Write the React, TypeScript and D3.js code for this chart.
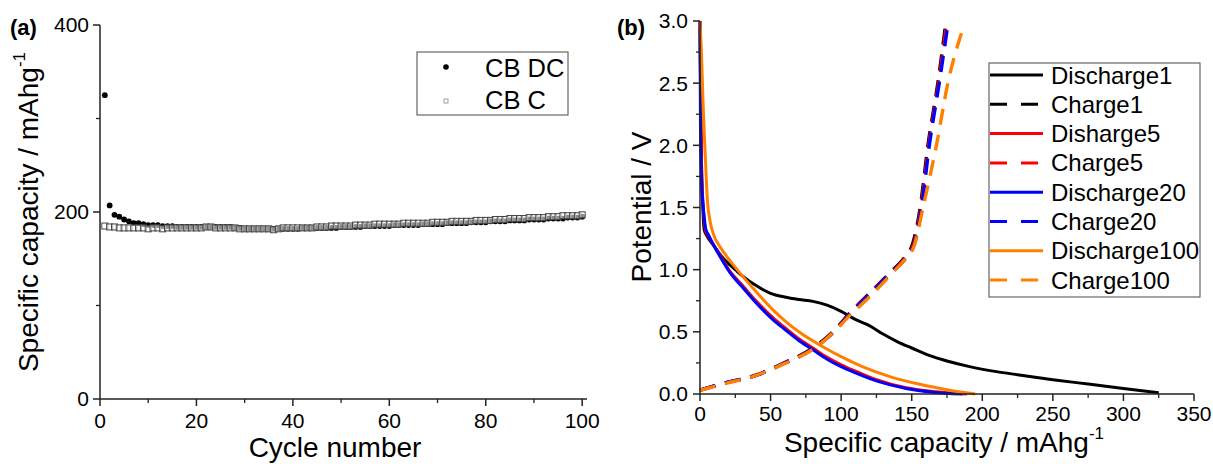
import React from "react";
import * as d3 from "d3";

// ---------- Panel (a) data ----------
const cbDC = [
  325, 207, 197, 195, 192, 190, 188, 188, 187, 186,
  186, 186, 185, 185, 185, 184, 184, 184, 184, 184,
  184, 184, 184, 184, 184, 184, 184, 183, 183, 182,
  182, 182, 182, 182, 182, 182, 182, 182, 182, 182,
  182, 183, 183, 183, 183, 183, 183, 183, 183, 184,
  184, 184, 184, 184, 185, 185, 185, 185, 185, 185,
  186, 186, 186, 186, 186, 186, 187, 187, 187, 187,
  187, 188, 188, 188, 188, 188, 189, 189, 189, 189,
  190, 190, 190, 190, 191, 191, 191, 191, 192, 192,
  192, 192, 193, 193, 193, 193, 194, 194, 194, 195,
];
const cbC = [
  185, 184, 184, 183, 183, 183, 183, 183, 183, 182,
  183, 183, 182, 183, 183, 183, 183, 183, 183, 183,
  183, 184, 184, 183, 183, 183, 183, 183, 182, 182,
  182, 182, 182, 182, 182, 181, 182, 183, 183, 183,
  183, 183, 183, 183, 184, 184, 184, 185, 185, 185,
  185, 185, 186, 186, 186, 186, 187, 187, 187, 187,
  187, 187, 188, 188, 188, 188, 188, 188, 189, 189,
  189, 189, 190, 190, 190, 190, 190, 191, 191, 191,
  191, 192, 192, 192, 193, 193, 193, 193, 194, 194,
  194, 194, 195, 195, 195, 196, 196, 196, 196, 197,
];
const aXTicks = [0, 20, 40, 60, 80, 100];
const aXMinor = [10, 30, 50, 70, 90];
const aYTicks = [0, 200, 400];
const aYMinor = [100, 300];

// ---------- Panel (b) data ----------
const dis1Cap = [0, 0.5, 1, 2, 3, 5, 10, 15, 20, 25, 30, 40, 50, 60, 70, 80, 90, 100, 110, 120, 130, 140, 150, 165, 175, 191, 210, 225, 250, 275, 300, 325];
const dis1V = [3.0, 2.4, 1.9, 1.5, 1.32, 1.27, 1.19, 1.11, 1.05, 1.0, 0.95, 0.87, 0.81, 0.78, 0.76, 0.745, 0.715, 0.665, 0.6, 0.55, 0.48, 0.42, 0.37, 0.3, 0.265, 0.22, 0.18, 0.155, 0.115, 0.08, 0.045, 0.01];
const ch1Cap = [0, 16.5, 40, 59, 82.6, 95, 106, 121, 136.8, 145, 151, 156, 161.5, 168.5, 174];
const ch1V = [0.03, 0.086, 0.153, 0.247, 0.39, 0.51, 0.65, 0.82, 1.0, 1.1, 1.22, 1.5, 2.0, 2.5, 2.97];
const dis5Cap = [0, 0.5, 1, 2, 3, 4, 6, 10, 15, 21, 30, 40, 52, 60, 70, 80, 90, 100, 111, 125, 146, 165, 189];
const dis5V = [3.0, 2.3, 1.9, 1.55, 1.4, 1.31, 1.27, 1.19, 1.1, 0.99, 0.875, 0.745, 0.61, 0.535, 0.445, 0.37, 0.295, 0.235, 0.18, 0.115, 0.05, 0.02, 0.0];
const ch5Cap = [0, 16.5, 40, 59, 82.6, 95, 106, 121, 136.8, 145, 151.5, 156.5, 162, 169, 175];
const ch5V = [0.03, 0.085, 0.152, 0.245, 0.385, 0.505, 0.645, 0.815, 0.995, 1.09, 1.21, 1.5, 2.0, 2.5, 3.0];
const dis20Cap = [0, 0.3, 0.6, 1, 2, 3, 4, 6, 10, 15, 21, 30, 40, 52, 60, 70, 80, 90, 100, 111, 125, 146, 165, 186];
const dis20V = [3.0, 2.2, 1.95, 1.75, 1.55, 1.42, 1.33, 1.28, 1.19, 1.09, 0.98, 0.86, 0.73, 0.595, 0.52, 0.43, 0.355, 0.28, 0.22, 0.166, 0.105, 0.045, 0.015, 0.0];
const ch20Cap = [0, 16.5, 40, 59, 82.6, 95, 106, 121, 136.8, 145, 152, 157, 162.5, 169.5, 176];
const ch20V = [0.03, 0.085, 0.15, 0.243, 0.383, 0.5, 0.64, 0.81, 0.99, 1.08, 1.21, 1.5, 2.0, 2.5, 3.0];
const dis100Cap = [0, 1, 2, 3, 4, 5, 7, 9.4, 15, 20, 30, 40, 51.9, 60, 70, 87, 100, 115, 134.5, 155, 175, 195];
const dis100V = [3.0, 2.75, 2.4, 2.1, 1.85, 1.6, 1.4, 1.29, 1.17, 1.09, 0.95, 0.82, 0.675, 0.59, 0.5, 0.38, 0.3, 0.22, 0.14, 0.08, 0.035, 0.0];
const ch100Cap = [0, 16.5, 40, 59, 82.6, 95, 106, 120, 136.8, 145, 152, 158, 167.5, 175.6, 186];
const ch100V = [0.03, 0.08, 0.15, 0.24, 0.38, 0.5, 0.63, 0.78, 0.98, 1.08, 1.2, 1.5, 2.0, 2.5, 2.93];

const bSeriesNames = ["Discharge1", "Charge1", "Disharge5", "Charge5", "Discharge20", "Charge20", "Discharge100", "Charge100"];
const bSeriesColors = ["#000000", "#000000", "#ff0000", "#ff0000", "#0000ff", "#0000ff", "#ff8000", "#ff8000"];
const bSeriesDashed = [false, true, false, true, false, true, false, true];
const bSeriesCaps = [dis1Cap, ch1Cap, dis5Cap, ch5Cap, dis20Cap, ch20Cap, dis100Cap, ch100Cap];
const bSeriesVs = [dis1V, ch1V, dis5V, ch5V, dis20V, ch20V, dis100V, ch100V];

const bXTicks = [0, 50, 100, 150, 200, 250, 300, 350];
const bXMinor = [25, 75, 125, 175, 225, 275, 325];
const bYTicks = [0, 0.5, 1.0, 1.5, 2.0, 2.5, 3.0];
const bYMinor = [0.25, 0.75, 1.25, 1.75, 2.25, 2.75];

const FONT = "'Liberation Sans', Arial, Helvetica, sans-serif";
const AX = "#222";

export default function App() {
  // Panel (a) scales
  const ax = d3.scaleLinear().domain([0, 101]).range([100, 587]);
  const ay = d3.scaleLinear().domain([0, 400]).range([399, 25]);
  // Panel (b) scales
  const bx = d3.scaleLinear().domain([0, 350]).range([700, 1194]);
  const by = d3.scaleLinear().domain([0, 3]).range([394, 21]);

  const line = d3
    .line<[number, number]>()
    .x((d) => bx(d[0]))
    .y((d) => by(d[1]))
    .curve(d3.curveMonotoneX);

  const tickFont = 21;

  return (
    <svg width={1213} height={464} style={{ display: "block", position: "absolute", left: 0, top: 0 }} fontFamily={FONT}>
      <rect x={0} y={0} width={1213} height={464} fill="#fff" />

      {/* ===== Panel (a) ===== */}
      <text x={10} y={35} fontSize={22} fontWeight="bold" fill="#000">(a)</text>

      {/* data: discharge circles */}
      {cbDC.map((v, i) => (
        <circle key={"dc" + i} cx={ax(i + 1)} cy={ay(v)} r={2.9} fill="#000" />
      ))}
      {/* data: charge squares */}
      {cbC.map((v, i) => (
        <rect key={"c" + i} x={ax(i + 1) - 3} y={ay(v) - 3} width={6} height={6} fill="#fff" fillOpacity={0.55} stroke="#444" strokeWidth={1} />
      ))}

      {/* axes */}
      <line x1={ax(0)} x2={ax(101)} y1={ay(0)} y2={ay(0)} stroke={AX} strokeWidth={1.5} />
      <line x1={ax(0)} x2={ax(0)} y1={ay(0)} y2={ay(400)} stroke={AX} strokeWidth={1.5} />
      {aXTicks.map((t) => (
        <g key={"axt" + t}>
          <line x1={ax(t)} x2={ax(t)} y1={ay(0)} y2={ay(0) + 7} stroke={AX} strokeWidth={1.5} />
          <text x={ax(t)} y={ay(0) + 14} dy="0.71em" textAnchor="middle" fontSize={tickFont}>{t}</text>
        </g>
      ))}
      {aXMinor.map((t) => (
        <line key={"axm" + t} x1={ax(t)} x2={ax(t)} y1={ay(0)} y2={ay(0) + 4} stroke={AX} strokeWidth={1.3} />
      ))}
      {aYTicks.map((t) => (
        <g key={"ayt" + t}>
          <line x1={ax(0) - 7} x2={ax(0)} y1={ay(t)} y2={ay(t)} stroke={AX} strokeWidth={1.5} />
          <text x={ax(0) - 11} y={ay(t)} dy="0.35em" textAnchor="end" fontSize={tickFont}>{t}</text>
        </g>
      ))}
      {aYMinor.map((t) => (
        <line key={"aym" + t} x1={ax(0) - 4} x2={ax(0)} y1={ay(t)} y2={ay(t)} stroke={AX} strokeWidth={1.3} />
      ))}

      {/* titles */}
      <text x={335} y={457} textAnchor="middle" fontSize={28}>Cycle number</text>
      <text transform="translate(38,212) rotate(-90)" textAnchor="middle" fontSize={28}>
        Specific capacity / mAhg<tspan fontSize={17} dy={-13}>-1</tspan>
      </text>

      {/* legend (a) */}
      <rect x={417} y={52} width={151} height={63} fill="#fff" stroke="#666" strokeWidth={1.2} />
      <circle cx={446} cy={67} r={2.8} fill="#000" />
      <rect x={444} y={99} width={4} height={4} fill="#fff" stroke="#888" strokeWidth={0.8} />
      <text x={485} y={77} fontSize={25.5}>CB DC</text>
      <text x={485} y={109} fontSize={25.5}>CB C</text>

      {/* ===== Panel (b) ===== */}
      <text x={617} y={35} fontSize={22} fontWeight="bold" fill="#000">(b)</text>

      {bSeriesNames.map((name, s) => {
        const pts = bSeriesCaps[s].map((c, i) => [c, bSeriesVs[s][i]] as [number, number]);
        return (
          <path
            key={"bs" + name}
            d={line(pts) || ""}
            fill="none"
            stroke={bSeriesColors[s]}
            strokeWidth={bSeriesDashed[s] ? 3.4 : 3}
            strokeDasharray={bSeriesDashed[s] ? "16 10" : undefined}
            strokeLinejoin="round"
          />
        );
      })}

      {/* axes (b) */}
      <line x1={bx(0)} x2={bx(350)} y1={by(0)} y2={by(0)} stroke={AX} strokeWidth={1.5} />
      <line x1={bx(0)} x2={bx(0)} y1={by(0)} y2={by(3)} stroke={AX} strokeWidth={1.5} />
      {bXTicks.map((t) => (
        <g key={"bxt" + t}>
          <line x1={bx(t)} x2={bx(t)} y1={by(0)} y2={by(0) + 7} stroke={AX} strokeWidth={1.5} />
          <text x={bx(t)} y={by(0) + 12} dy="0.71em" textAnchor="middle" fontSize={tickFont}>{t}</text>
        </g>
      ))}
      {bXMinor.map((t) => (
        <line key={"bxm" + t} x1={bx(t)} x2={bx(t)} y1={by(0)} y2={by(0) + 4} stroke={AX} strokeWidth={1.3} />
      ))}
      {bYTicks.map((t) => (
        <g key={"byt" + t}>
          <line x1={bx(0) - 7} x2={bx(0)} y1={by(t)} y2={by(t)} stroke={AX} strokeWidth={1.5} />
          <text x={bx(0) - 12} y={by(t)} dy="0.35em" textAnchor="end" fontSize={tickFont}>{d3.format(".1f")(t)}</text>
        </g>
      ))}
      {bYMinor.map((t) => (
        <line key={"bym" + t} x1={bx(0) - 4} x2={bx(0)} y1={by(t)} y2={by(t)} stroke={AX} strokeWidth={1.3} />
      ))}

      <text x={944} y={452} textAnchor="middle" fontSize={28}>
        Specific capacity / mAhg<tspan fontSize={17} dy={-13}>-1</tspan>
      </text>
      <text transform="translate(651,207) rotate(-90)" textAnchor="middle" fontSize={28}>Potential / V</text>

      {/* legend (b) */}
      <rect x={989} y={63} width={211} height={234} fill="#fff" stroke="#666" strokeWidth={1.2} />
      {bSeriesNames.map((name, s) => {
        const cy = 75 + s * 29.3;
        return (
          <g key={"lg" + name}>
            <line
              x1={990}
              x2={1043}
              y1={cy}
              y2={cy}
              stroke={bSeriesColors[s]}
              strokeWidth={3}
              strokeDasharray={bSeriesDashed[s] ? "17 14" : undefined}
            />
            <text x={1051} y={cy + 8.5} fontSize={24}>{name}</text>
          </g>
        );
      })}
    </svg>
  );
}
